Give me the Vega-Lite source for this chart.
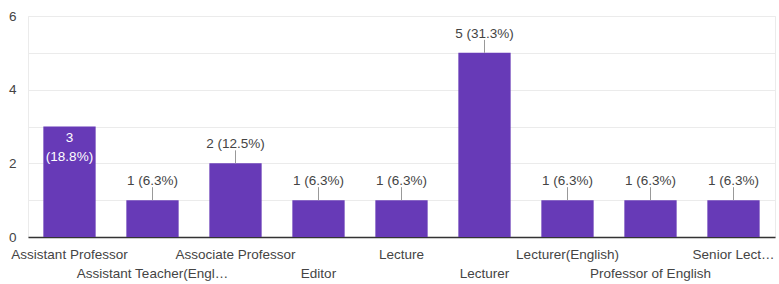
{
  "$schema": "https://vega.github.io/schema/vega-lite/v6.json",
  "width": 747,
  "height": 221,
  "autosize": {"type": "none"},
  "padding": {"left": 28, "top": 16, "right": 4, "bottom": 47},
  "background": "white",
  "config": {
    "view": {"stroke": "#ebebeb"},
    "font": "Liberation Sans",
    "axis": {"labelFont": "Liberation Sans", "labelColor": "#444", "labelFontSize": 13.5}
  },
  "data": {
    "values": [
      {"role": "Assistant Professor", "count": 3, "label": "3\n(18.8%)", "inside": true},
      {"role": "Assistant Teacher(Engl…", "count": 1, "label": "1 (6.3%)", "inside": false},
      {"role": "Associate Professor", "count": 2, "label": "2 (12.5%)", "inside": false},
      {"role": "Editor", "count": 1, "label": "1 (6.3%)", "inside": false},
      {"role": "Lecture", "count": 1, "label": "1 (6.3%)", "inside": false},
      {"role": "Lecturer", "count": 5, "label": "5 (31.3%)", "inside": false},
      {"role": "Lecturer(English)", "count": 1, "label": "1 (6.3%)", "inside": false},
      {"role": "Professor of English", "count": 1, "label": "1 (6.3%)", "inside": false},
      {"role": "Senior Lect…", "count": 1, "label": "1 (6.3%)", "inside": false}
    ]
  },
  "encoding": {
    "x": {
      "field": "role",
      "type": "nominal",
      "sort": null,
      "scale": {"paddingInner": 0.37, "paddingOuter": 0.185},
      "axis": {
        "title": null,
        "labelAngle": 0,
        "ticks": false,
        "domainColor": "#333",
        "domainWidth": 1.5,
        "labelPadding": 10,
        "labelBaseline": "top",
        "labelLineHeight": 19,
        "labelLimit": 400,
        "labelOverlap": false,
        "labelFontSize": 13.5,
        "labelExpr": "round(datum.index * 8) % 2 == 1 ? ['', datum.label] : datum.label"
      }
    },
    "y": {
      "field": "count",
      "type": "quantitative",
      "scale": {"domain": [0, 6], "nice": false},
      "axis": {
        "title": null,
        "values": [0, 1, 2, 3, 4, 5, 6],
        "labelExpr": "datum.value % 2 == 0 ? datum.label : ''",
        "domain": false,
        "ticks": false,
        "gridColor": "#ebebeb",
        "labelPadding": 12,
        "labelFontSize": 13.5
      }
    }
  },
  "layer": [
    {"mark": {"type": "bar", "color": "#673ab7"}},
    {
      "transform": [{"filter": "!datum.inside"}],
      "mark": {"type": "rule", "color": "#999", "strokeWidth": 1, "y2Offset": -13},
      "encoding": {"y2": {"field": "count"}}
    },
    {
      "transform": [{"filter": "!datum.inside"}],
      "mark": {"type": "text", "baseline": "alphabetic", "dy": -15, "fontSize": 13.5, "color": "#444", "font": "Liberation Sans"},
      "encoding": {"text": {"field": "label"}}
    },
    {
      "transform": [{"filter": "datum.inside"}],
      "mark": {"type": "text", "baseline": "top", "dy": 4, "fontSize": 13.5, "color": "white", "lineBreak": "\n", "lineHeight": 19, "font": "Liberation Sans"},
      "encoding": {"text": {"field": "label"}}
    }
  ]
}
